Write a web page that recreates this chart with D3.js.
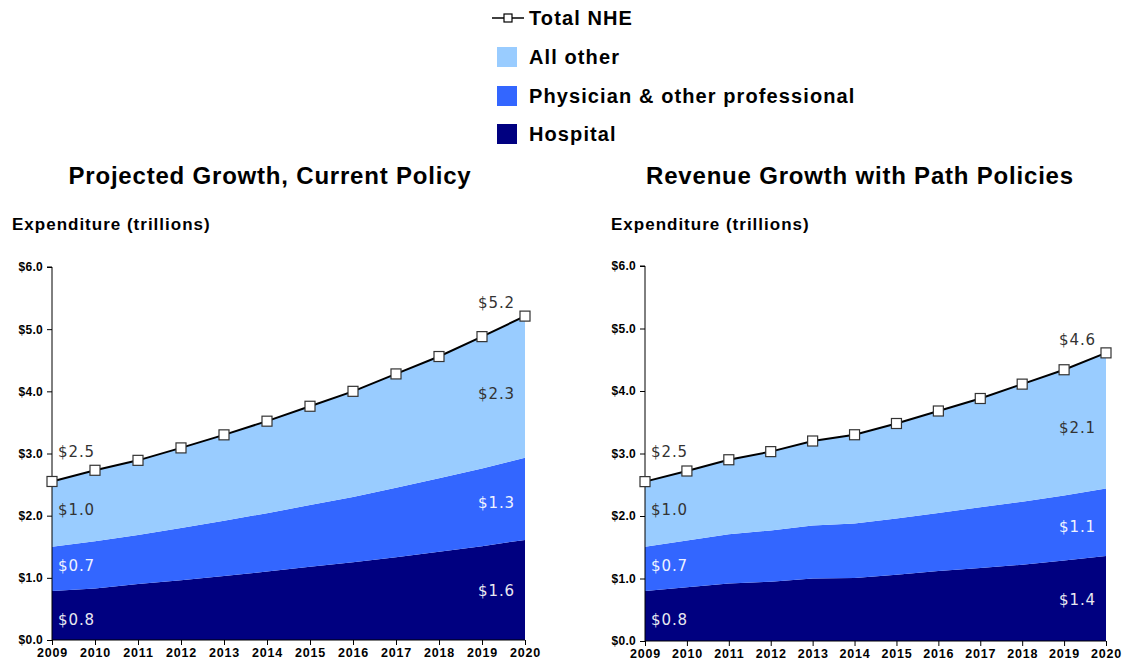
<!DOCTYPE html>
<html>
<head>
<meta charset="utf-8">
<script src="https://cdn.jsdelivr.net/npm/d3@7"></script>
<style>
  body { margin: 0; background: #fff; }
  svg { display: block; font-family: "Liberation Sans", Arial, sans-serif; }
</style>
</head>
<body>
<div id="visualization"></div>
<script>
const years = [2009, 2010, 2011, 2012, 2013, 2014, 2015, 2016, 2017, 2018, 2019, 2020];
const yTicks = [0, 1, 2, 3, 4, 5, 6];
const seriesNames = ['Hospital', 'Physician & other professional', 'All other'];
const seriesColors = ['#000080', '#3366ff', '#99ccff'];

// Projected growth, current policy (trillions)
const currentHospital  = [0.79, 0.83, 0.90, 0.96, 1.03, 1.10, 1.18, 1.25, 1.33, 1.42, 1.51, 1.61];
const currentPhysician = [0.71, 0.76, 0.79, 0.84, 0.89, 0.94, 0.99, 1.05, 1.12, 1.18, 1.25, 1.32];
const currentOther     = [1.05, 1.14, 1.20, 1.29, 1.38, 1.48, 1.59, 1.70, 1.83, 1.96, 2.12, 2.28];
const currentTotal     = [2.55, 2.73, 2.89, 3.09, 3.30, 3.52, 3.76, 4.00, 4.28, 4.56, 4.88, 5.21];
const currentLabels    = { total: ['$2.5', '$5.2'], other: ['$1.0', '$2.3'], physician: ['$0.7', '$1.3'], hospital: ['$0.8', '$1.6'] };

// Revenue growth with path policies (trillions)
const pathHospital  = [0.80, 0.86, 0.92, 0.95, 1.00, 1.01, 1.06, 1.12, 1.17, 1.22, 1.29, 1.36];
const pathPhysician = [0.71, 0.75, 0.79, 0.82, 0.85, 0.87, 0.90, 0.93, 0.97, 1.01, 1.04, 1.08];
const pathOther     = [1.04, 1.11, 1.19, 1.26, 1.35, 1.42, 1.52, 1.63, 1.74, 1.88, 2.01, 2.17];
const pathTotal     = [2.55, 2.72, 2.90, 3.03, 3.20, 3.30, 3.48, 3.68, 3.88, 4.11, 4.34, 4.61];
const pathLabels    = { total: ['$2.5', '$4.6'], other: ['$1.0', '$2.1'], physician: ['$0.7', '$1.1'], hospital: ['$0.8', '$1.4'] };

const svg = d3.select('#visualization')
    .append('svg')
    .attr('width', 1131)
    .attr('height', 667);

// legend
const legend = svg.append('g').attr('transform', 'translate(492,0)');
const legendRows = [
    { name: 'Total NHE', type: 'line', y: 18 },
    { name: seriesNames[2], color: seriesColors[2], y: 57 },
    { name: seriesNames[1], color: seriesColors[1], y: 96 },
    { name: seriesNames[0], color: seriesColors[0], y: 134 }
];
legendRows.forEach(r => {
    if (r.type === 'line') {
        legend.append('line')
            .attr('x1', 0).attr('x2', 32).attr('y1', r.y).attr('y2', r.y)
            .attr('stroke', '#000').attr('stroke-width', 1.5);
        legend.append('rect')
            .attr('x', 12).attr('y', r.y - 4).attr('width', 8).attr('height', 8)
            .attr('fill', '#fff').attr('stroke', '#000').attr('stroke-width', 1.2);
    } else {
        legend.append('rect')
            .attr('x', 5).attr('y', r.y - 10).attr('width', 20).attr('height', 20)
            .attr('fill', r.color);
    }
    legend.append('text')
        .attr('x', 37).attr('y', r.y)
        .attr('dy', '0.35em')
        .style('font-size', '20px')
        .style('font-weight', 'bold')
        .style('letter-spacing', '1.1px')
        .text(r.name);
});

function drawChart(cfg) {
    const g = svg.append('g');

    const xScale = d3.scaleLinear()
        .domain(d3.extent(years))
        .range([cfg.left, cfg.right]);
    const yScale = d3.scaleLinear()
        .domain([0, 6])
        .range([cfg.bottom, cfg.top]);

    const rows = years.map((yr, i) => ({
        year: yr,
        hospital: cfg.hospital[i],
        physician: cfg.physician[i],
        other: cfg.other[i],
        total: cfg.total[i]
    }));

    const stack = d3.stack().keys(['hospital', 'physician', 'other'])(rows);
    const area = d3.area()
        .x(d => xScale(d.data.year))
        .y0(d => yScale(d[0]))
        .y1(d => yScale(d[1]));

    g.selectAll('.layer')
        .data(stack)
        .enter()
        .append('path')
        .attr('class', 'layer')
        .attr('d', area)
        .attr('fill', (d, i) => seriesColors[i]);

    // title
    g.append('text')
        .attr('x', cfg.titleX)
        .attr('y', 176)
        .attr('dy', '0.35em')
        .attr('text-anchor', 'middle')
        .style('font-size', '24px')
        .style('font-weight', 'bold')
        .style('letter-spacing', '0.8px')
        .text(cfg.title);

    g.append('text')
        .attr('x', cfg.unitX)
        .attr('y', 224)
        .attr('dy', '0.35em')
        .style('font-size', '17px')
        .style('font-weight', 'bold')
        .style('letter-spacing', '1px')
        .text('Expenditure (trillions)');

    // axes
    const yAxis = d3.axisLeft(yScale)
        .tickValues(yTicks)
        .tickSize(5)
        .tickPadding(4)
        .tickFormat(d => '$' + d3.format('.1f')(d));
    g.append('g')
        .attr('transform', `translate(${cfg.left},0)`)
        .call(yAxis)
        .call(a => a.select('.domain').attr('d', `M-5,${cfg.top}H0V${cfg.bottom}`))
        .call(a => a.selectAll('text')
            .style('font-size', '12px').style('font-weight', 'bold')
            .style('letter-spacing', '0.3px').attr('font-family', null));

    const xAxis = d3.axisBottom(xScale)
        .tickValues(years)
        .tickSize(5)
        .tickPadding(3)
        .tickFormat(d3.format('d'));
    g.append('g')
        .attr('transform', `translate(0,${cfg.bottom})`)
        .call(xAxis)
        .call(a => a.select('.domain').attr('d', `M${cfg.left},0H${cfg.right}`))
        .call(a => a.selectAll('text')
            .style('font-size', '12.5px').style('font-weight', 'bold')
            .style('letter-spacing', '0.8px').attr('font-family', null));

    // total line
    const line = d3.line()
        .x(d => xScale(d.year))
        .y(d => yScale(d.total));
    g.append('path')
        .datum(rows)
        .attr('d', line)
        .attr('fill', 'none')
        .attr('stroke', '#000')
        .attr('stroke-width', 2);

    g.selectAll('.marker')
        .data(rows)
        .enter()
        .append('rect')
        .attr('class', 'marker')
        .attr('x', d => xScale(d.year) - 5)
        .attr('y', d => yScale(d.total) - 5)
        .attr('width', 10)
        .attr('height', 10)
        .attr('fill', '#fff')
        .attr('stroke', '#333')
        .attr('stroke-width', 1.2);

    // value labels
    const first = rows[0], last = rows[rows.length - 1];
    const labelStyle = sel => sel
        .style('font-family', '"DejaVu Sans", Verdana, sans-serif')
        .style('font-size', '15px')
        .style('letter-spacing', '0.9px')
        .attr('dy', '0.35em');

    const bands = [
        { key: 'hospital', lo: d => 0, hi: d => d.hospital, color: '#e8e8f0', dyFirst: 4, dyLast: 1 },
        { key: 'physician', lo: d => d.hospital, hi: d => d.hospital + d.physician, color: '#eef2ff', dyFirst: -3, dyLast: 4 },
        { key: 'other', lo: d => d.hospital + d.physician, hi: d => d.total, color: '#333', dyFirst: -4, dyLast: 7 }
    ];
    bands.forEach(b => {
        g.append('text').call(labelStyle)
            .attr('x', xScale(first.year) + 6)
            .attr('y', yScale((b.lo(first) + b.hi(first)) / 2) + b.dyFirst)
            .attr('fill', b.color)
            .text(cfg.labels[b.key][0]);
        g.append('text').call(labelStyle)
            .attr('x', xScale(last.year) - 10)
            .attr('y', yScale((b.lo(last) + b.hi(last)) / 2) + b.dyLast)
            .attr('text-anchor', 'end')
            .attr('fill', b.color)
            .text(cfg.labels[b.key][1]);
    });

    g.append('text').call(labelStyle)
        .attr('x', xScale(first.year) + 6)
        .attr('y', yScale(first.total) - 30)
        .attr('fill', '#333')
        .text(cfg.labels.total[0]);
    g.append('text').call(labelStyle)
        .attr('x', xScale(last.year) - 10)
        .attr('y', yScale(last.total) - 13)
        .attr('text-anchor', 'end')
        .attr('fill', '#333')
        .text(cfg.labels.total[1]);
}

drawChart({
    title: 'Projected Growth, Current Policy',
    titleX: 270, unitX: 12,
    left: 52, right: 525, top: 267, bottom: 640,
    hospital: currentHospital, physician: currentPhysician, other: currentOther, total: currentTotal,
    labels: currentLabels
});

drawChart({
    title: 'Revenue Growth with Path Policies',
    titleX: 860, unitX: 611,
    left: 645, right: 1106, top: 266, bottom: 641,
    hospital: pathHospital, physician: pathPhysician, other: pathOther, total: pathTotal,
    labels: pathLabels
});
</script>
</body>
</html>
